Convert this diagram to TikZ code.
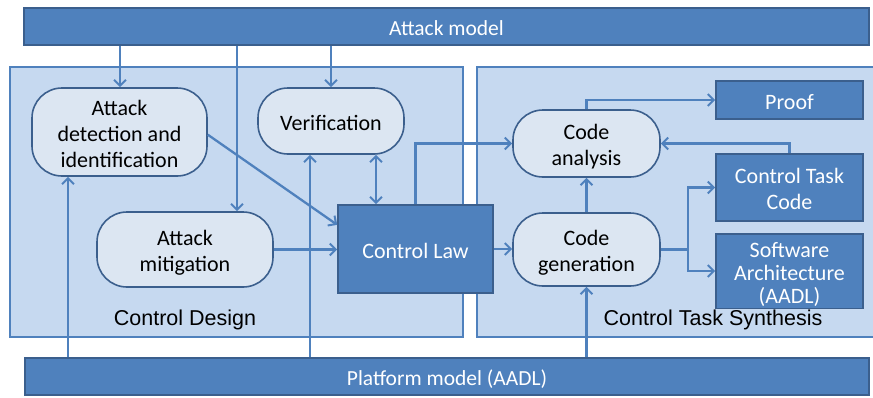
\documentclass[tikz,border=0pt]{standalone}
\usepackage{fontspec}
\setmainfont{Carlito}
\newfontfamily\arialfont{Liberation Sans}
\usetikzlibrary{arrows.meta,calc}
\definecolor{darkfill}{HTML}{4F81BD}
\definecolor{darkline}{HTML}{3B5F8D}
\definecolor{regionfill}{HTML}{C6D9F0}
\definecolor{softfill}{HTML}{DCE6F2}
\definecolor{arrowcol}{HTML}{4F81BD}
\newcommand\mytopstrut{\rule{0pt}{23.6pt}}
\tikzset{
  lowtext/.style={execute at end node={\rule[-5pt]{0pt}{0pt}}},
  bar/.style={draw=darkline, fill=darkfill, line width=1.2pt, text=white, font=\fontsize{21.5}{26}\selectfont, inner sep=0pt, lowtext},
  region/.style={draw=darkfill, fill=regionfill, line width=1.6pt, inner sep=0pt},
  soft/.style={draw=darkline, fill=softfill, line width=1.6pt, rounded corners=30pt, align=center, text=black, font=\fontsize{22}{26}\selectfont, inner sep=0pt, lowtext},
  darkbox/.style={draw=darkline, fill=darkfill, line width=1.6pt, align=center, text=white, font=\fontsize{22}{26}\selectfont, inner sep=0pt, lowtext},
  lbl/.style={font=\arialfont\fontsize{21.5}{26}\selectfont, text=black, inner sep=0pt},
  arr/.style={draw=arrowcol, line width=2.3pt, -{Straight Barb[length=6pt,width=12pt,line width=2pt]}},
  darr/.style={draw=arrowcol, line width=2.3pt, {Straight Barb[length=6pt,width=12pt,line width=2pt]}-{Straight Barb[length=6pt,width=12pt,line width=2pt]}},
  plain/.style={draw=arrowcol, line width=2.3pt}
}
\begin{document}
\begin{tikzpicture}[x=1pt,y=-1pt]
\useasboundingbox (0,0) rectangle (873,397);
% regions
\node[region, minimum width=453pt, minimum height=270pt] (design) at (236.5,202) {};
\node[region, minimum width=410pt, minimum height=270pt] (synth) at (682,202) {};
\node[lbl] (designlbl) at (185,320) {Control Design};
\node[lbl] (synthlbl) at (713,320) {Control Task Synthesis};
% bars
\node[bar, minimum width=845pt, minimum height=37pt] (attack) at (446.5,26.5) {\mytopstrut Attack model};
\node[bar, minimum width=844pt, minimum height=37pt] (platform) at (447,376.5) {\mytopstrut Platform model (AADL)};
% soft nodes
\node[soft, minimum width=175pt, minimum height=88pt] (det) at (119.5,132) {\mytopstrut Attack\\detection and\\identification};
\node[soft, minimum width=146pt, minimum height=66pt] (ver) at (331,121) {\mytopstrut Verification};
\node[soft, minimum width=176pt, minimum height=75pt] (mit) at (185,249.5) {\mytopstrut Attack\\mitigation};
\node[soft, minimum width=147pt, minimum height=67pt] (ana) at (586.5,143.5) {\mytopstrut Code\\analysis};
\node[soft, minimum width=147pt, minimum height=73pt] (gen) at (586.5,249.5) {\mytopstrut Code\\generation};
% dark boxes
\node[darkbox, minimum width=155pt, minimum height=88pt] (law) at (415.5,249) {\mytopstrut Control Law};
\node[darkbox, minimum width=147pt, minimum height=38pt] (proof) at (789.5,100) {\mytopstrut Proof};
\node[darkbox, minimum width=147pt, minimum height=67pt] (ctc) at (789.5,187.5) {\mytopstrut Control Task\\Code};
\node[darkbox, minimum width=147pt, minimum height=74pt, font=\fontsize{22}{23}\selectfont] (sa) at (789.5,271) {\mytopstrut Software\\Architecture\\(AADL)};
% connectors from attack model
\draw[arr] (attack.south -| 120,0) -- (det.north -| 120,0);
\draw[arr] (attack.south -| 237,0) -- (mit.north -| 237,0);
\draw[arr] (attack.south -| ver.north) -- (ver.north);
% platform connectors
\draw[arr] (platform.north -| 68,0) -- (det.south -| 68,0);
\draw[arr] (platform.north -| 310,0) -- (ver.south -| 310,0);
\draw[arr] (platform.north -| gen.south) -- (gen.south);
% design connectors
\draw[arr] ($(det.north east)!0.53!(det.south east)$) -- ($(law.north west)!0.23!(law.south west)$);
\draw[arr] (mit.east) -- (law.west |- mit.east);
\draw[darr] (ver.south -| 376,0) -- (law.north -| 376,0);
% synthesis connectors
\draw[arr] (law.north) |- (ana.west);
\draw[arr] (law.east) -- (gen.west |- law.east);
\draw[arr] (gen.north) -- (ana.south);
\draw[arr] (ana.north) |- (proof.west);
\draw[arr] (ctc.north) |- (ana.east);
\coordinate (split) at (gen.east -| 688,0);
\draw[plain] (gen.east) -- (split);
\draw[arr] (split) |- (ctc.west);
\draw[arr] (split) |- (sa.west);
\end{tikzpicture}
\end{document}
